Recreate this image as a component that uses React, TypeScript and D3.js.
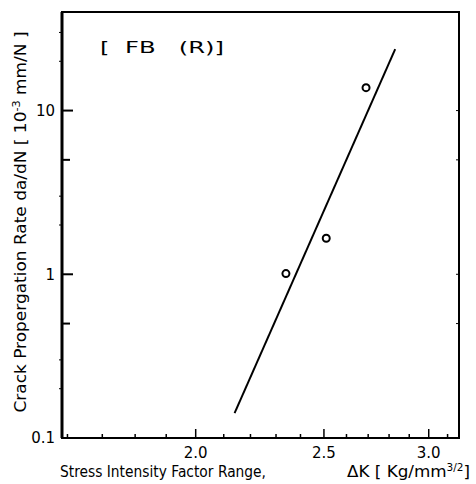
import React from "react";
import * as d3 from "d3";

const deltaK = [2.34, 2.51, 2.69];
const rate = [1.01, 1.66, 13.8];
const fitK = [2.14, 2.83];
const fitRate = [0.142, 23.7];
const xMajorTicks = [2.0, 2.5, 3.0];
const xTickLabels = ["2.0", "2.5", "3.0"];
const xMinorTicks = [1.6, 1.7, 1.8, 1.9, 2.1, 2.2, 2.3, 2.4, 2.6, 2.7, 2.8, 2.9, 3.1];
const yMajorTicks = [0.1, 1, 10];
const yTickLabels = ["0.1", "1", "10"];
const yMidTicks = [0.5, 5];
const yMinorTicks = [0.2, 0.3, 2, 3, 20, 30];

const FONT = "'DejaVu Sans', sans-serif";

export default function App() {
  const x = d3.scaleLog().domain([Math.pow(10, 0.2), Math.pow(10, 0.5)]).range([62, 459]);
  const y = d3.scaleLog().domain([0.1, 40]).range([438, 12]);
  const [x0, x1] = x.range();
  const [y0, y1] = y.range();
  const line = d3
    .line<number>()
    .x((_, i) => x(fitK[i]))
    .y((d) => y(d));

  return (
    <svg
      width={476}
      height={484}
      style={{ position: "absolute", left: 0, top: 0, background: "#fff" }}
      fontFamily={FONT}
    >
      {/* frame */}
      <rect x={x0} y={y1} width={x1 - x0} height={y0 - y1} fill="none" stroke="#000" strokeWidth={2} />
      <line x1={x0} x2={x0} y1={y1} y2={y0} stroke="#000" strokeWidth={3} />

      {/* y ticks */}
      {yMajorTicks.map((t, i) => (
        <g key={"ym" + i}>
          <line x1={x0} x2={x0 + 11} y1={y(t)} y2={y(t)} stroke="#000" strokeWidth={2} />
          <text x={55} y={y(t)} dy="0.35em" textAnchor="end" fontSize={15}>
            {yTickLabels[i]}
          </text>
        </g>
      ))}
      {yMidTicks.map((t, i) => (
        <line key={"yd" + i} x1={x0} x2={x0 + 8} y1={y(t)} y2={y(t)} stroke="#000" strokeWidth={2} />
      ))}
      {yMinorTicks.map((t, i) => (
        <line key={"yn" + i} x1={x0 - 3} x2={x0} y1={y(t)} y2={y(t)} stroke="#000" strokeWidth={1} />
      ))}
      {[0.5, 1, 5, 10].map((t, i) => (
        <line key={"yr" + i} x1={x1 - 3} x2={x1} y1={y(t)} y2={y(t)} stroke="#000" strokeWidth={1} />
      ))}

      {/* x ticks */}
      {xMajorTicks.map((t, i) => (
        <g key={"xm" + i}>
          <line x1={x(t)} x2={x(t)} y1={y0} y2={y0 - 9} stroke="#000" strokeWidth={1.5} />
          <text x={x(t)} y={y0 + 20} textAnchor="middle" fontSize={15}>
            {xTickLabels[i]}
          </text>
        </g>
      ))}
      {xMinorTicks.map((t, i) => (
        <line key={"xn" + i} x1={x(t)} x2={x(t)} y1={y0} y2={y0 - 4} stroke="#000" strokeWidth={1.5} />
      ))}

      {/* fit line */}
      <path d={line(fitRate) || ""} fill="none" stroke="#000" strokeWidth={2} />

      {/* points */}
      {deltaK.map((k, i) => (
        <circle key={"p" + i} cx={x(k)} cy={y(rate[i])} r={3.5} fill="none" stroke="#000" strokeWidth={2} />
      ))}

      {/* annotation */}
      <text x={100} y={53} fontSize={15} textLength={124} lengthAdjust="spacingAndGlyphs" xmlSpace="preserve">
        {"[  FB   (R)]"}
      </text>

      {/* y title */}
      <text
        transform="translate(26,222) rotate(-90)"
        textAnchor="middle"
        fontSize={15}
        textLength={381}
        lengthAdjust="spacingAndGlyphs"
      >
        <tspan>Crack Propergation Rate  da/dN [ 10</tspan>
        <tspan fontSize={10} dy={-6}>-3</tspan>
        <tspan dy={6}> mm/N ]</tspan>
      </text>

      {/* x title */}
      <text x={60} y={477} fontSize={16} textLength={206} lengthAdjust="spacingAndGlyphs">
        Stress Intensity Factor Range,
      </text>
      <text x={347} y={477} fontSize={16} textLength={123} lengthAdjust="spacingAndGlyphs">
        <tspan>ΔK [ Kg/mm</tspan>
        <tspan fontSize={10} dy={-6}>3/2</tspan>
        <tspan dy={6}>]</tspan>
      </text>
    </svg>
  );
}
